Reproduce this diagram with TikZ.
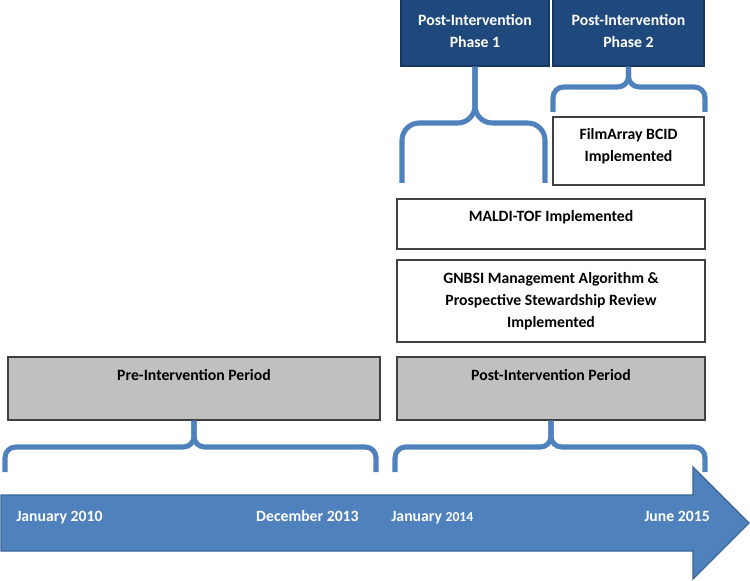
\documentclass[tikz,border=0pt]{standalone}
\usepackage{fontspec}
\setmainfont{Carlito}
\definecolor{braceblue}{HTML}{4F81BD}
\definecolor{arrowblue}{HTML}{4F81BD}
\definecolor{arrowedge}{HTML}{3A6596}
\definecolor{phaseblue}{HTML}{1F497D}
\definecolor{phaseedge}{HTML}{17365D}
\definecolor{periodgray}{HTML}{C0C0C0}
\definecolor{boxedge}{HTML}{404040}
\newcommand\boxfont{\fontsize{11.8}{16.5}\selectfont}

\begin{document}
\begin{tikzpicture}[x=0.75pt,y=-0.75pt,
    brace/.style={draw=braceblue, line width=3.8pt, line cap=butt, rounded corners=8pt},
    phasebox/.style={draw=phaseedge, fill=phaseblue, line width=1pt, text=white, align=center, font=\bfseries\boxfont},
    periodbox/.style={draw=boxedge, fill=periodgray, line width=1pt, minimum height=47.25pt},
    stepbox/.style={draw=boxedge, fill=white, line width=1pt, align=center, font=\bfseries\boxfont},
    boxtext/.style={font=\bfseries\boxfont, align=center, inner sep=0pt},
    datetext/.style={font=\bfseries\boxfont, text=white, inner sep=0pt}]
    \useasboundingbox (0,0) rectangle (750,581);

    % timeline arrow
    \filldraw[fill=arrowblue, draw=arrowedge, line width=1pt]
        (1,495) -- (693,495) -- (693,467) -- (749,523) -- (693,579) -- (693,551) -- (1,551) -- cycle;
    \node[datetext, anchor=base west] (jan10) at (16,521) {January 2010};
    \node[datetext, anchor=base east] (dec13) at (359,521) {December 2013};
    \node[datetext, anchor=base west] (jan14) at (391,521) {January {\fontsize{10.3}{12}\selectfont 2014}};
    \node[datetext, anchor=base east] (jun15) at (710,521) {June 2015};

    % period boxes
    \node[periodbox, minimum width=279pt] (pre) at (194,388.5) {};
    \node[boxtext, anchor=base] (pretext) at (194,380) {Pre-Intervention Period};
    \node[periodbox, minimum width=231pt] (post) at (551,388.5) {};
    \node[boxtext, anchor=base] (posttext) at (551,380) {Post-Intervention Period};

    % interventions
    \node[stepbox, minimum width=231pt, minimum height=61.5pt] (gnbsi) at (551,301)
        {GNBSI Management Algorithm \&\\Prospective Stewardship Review\\Implemented};
    \node[stepbox, minimum width=231pt, minimum height=37.5pt] (maldi) at (551,224) {};
    \node[boxtext, anchor=base] (malditext) at (551,221.5) {MALDI-TOF Implemented};
    \node[stepbox, minimum width=113.25pt, minimum height=51pt] (film) at (628.5,151) {};
    \node[boxtext] (filmtext) at (628.5,146) {FilmArray BCID\\Implemented};

    % phases
    \node[phasebox, minimum width=111pt, minimum height=52.5pt] (ph1) at (475,31) {Post-Intervention\\Phase 1};
    \node[phasebox, minimum width=113.25pt, minimum height=52.5pt] (ph2) at (628.5,31) {Post-Intervention\\Phase 2};

    % brace ends
    \coordinate (preL) at (5,472);
    \coordinate (preR) at (376,472);
    \coordinate (postL) at (395,472);
    \coordinate (postR) at (705,472);
    \coordinate (ph1L) at (402,183);
    \coordinate (ph1R) at (545,183);
    \coordinate (ph2L) at (553,112);
    \coordinate (ph2R) at (705,112);

    % braces
    \draw[brace] (preL) -- ++(0,-25) -| (pre.south);
    \draw[brace] (preR) -- ++(0,-25) -| (pre.south);
    \draw[brace] (postL) -- ++(0,-25) -| (post.south);
    \draw[brace] (postR) -- ++(0,-25) -| (post.south);
    \draw[brace, rounded corners=13pt] (ph1L) -- ++(0,-60) -| (ph1.south);
    \draw[brace, rounded corners=13pt] (ph1R) -- ++(0,-60) -| (ph1.south);
    \draw[brace] (ph2L) -- ++(0,-25) -| (ph2.south);
    \draw[brace] (ph2R) -- ++(0,-25) -| (ph2.south);
\end{tikzpicture}
\end{document}
